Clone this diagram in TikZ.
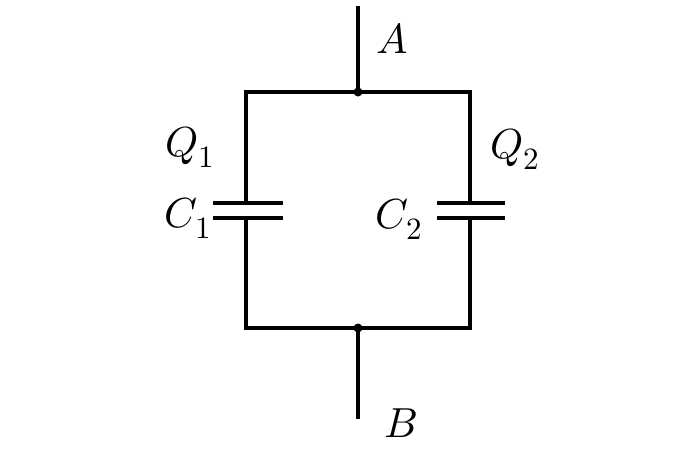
\documentclass[tikz,border=0pt]{standalone}
\usepackage{fontspec}
\usepackage{unicode-math}
\setmathfont{Latin Modern Math}
\DeclareMathSizes{42}{42}{31}{22}
\begin{document}
\begin{tikzpicture}[x=1pt,y=-1pt,
  wire/.style={line width=4.2pt,line join=miter},
  plate/.style={line width=4.2pt},
  lbl/.style={inner sep=0pt,font=\fontsize{42}{50}\selectfont}]
\useasboundingbox (0,0) rectangle (700,451);
\coordinate (top) at (358,6);
\coordinate (jA) at (358,92);
\coordinate (jB) at (358,328);
\coordinate (bot) at (358,419);
\coordinate (tl) at (246,92);
\coordinate (tr) at (470,92);
\coordinate (bl) at (246,328);
\coordinate (br) at (470,328);
\coordinate (c1u) at (246,203);
\coordinate (c1d) at (246,218);
\coordinate (c2u) at (470,203);
\coordinate (c2d) at (470,218);
\draw[wire] (top) -- (jA);
\draw[wire] (jB) -- (bot);
\draw[wire] (c1u) -- (tl) -- (tr) -- (c2u);
\draw[wire] (c1d) -- (bl) -- (br) -- (c2d);
\draw[plate] ([xshift=-33pt]c1u) -- ([xshift=37pt]c1u);
\draw[plate] ([xshift=-33pt]c1d) -- ([xshift=37pt]c1d);
\draw[plate] ([xshift=-33pt]c2u) -- ([xshift=35pt]c2u);
\draw[plate] ([xshift=-33pt]c2d) -- ([xshift=35pt]c2d);
\fill (jA) circle (4.5pt);
\fill (jB) circle (4.5pt);
\node[lbl] (A) at (392,38) {$A$};
\node[lbl] (B) at (401,423) {$B$};
\node[lbl] (Q1) at (190,147) {$Q_1$};
\node[lbl] (C1) at (188,218) {$C_1$};
\node[lbl] (C2) at (399,219) {$C_2$};
\node[lbl] (Q2) at (515,149) {$Q_2$};
\end{tikzpicture}
\end{document}
